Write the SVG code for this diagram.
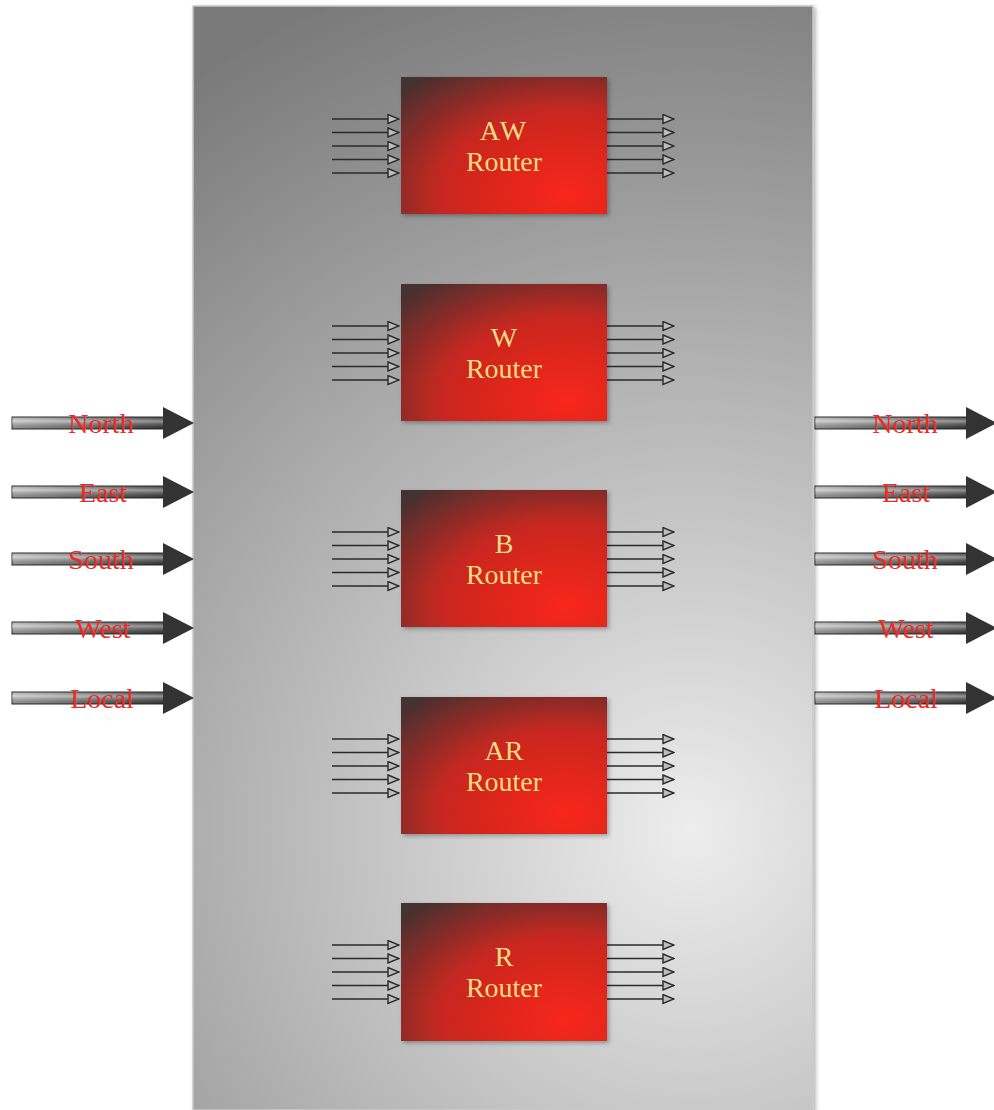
<svg xmlns="http://www.w3.org/2000/svg" width="994" height="1110" viewBox="0 0 994 1110">
<style>
.rt{font-family:"Liberation Serif","DejaVu Serif",serif;font-size:28px;fill:#f6dc84;text-anchor:middle}
.bl{font-family:"Liberation Serif","DejaVu Serif",serif;font-size:28px;fill:#ee2a24;text-anchor:middle}
.sl{stroke:#2a2a2a;stroke-width:1.7;fill:none}
</style>
<defs>
<radialGradient id="panel" cx="690" cy="830" r="900" gradientUnits="userSpaceOnUse">
<stop offset="0" stop-color="#ededed"/>
<stop offset="1" stop-color="#7a7a7a"/>
</radialGradient>
<radialGradient id="box" cx="0.8" cy="0.85" r="1.1" fx="0.8" fy="0.85">
<stop offset="0" stop-color="#f8281a"/>
<stop offset="0.55" stop-color="#c82820"/>
<stop offset="1" stop-color="#443030"/>
</radialGradient>
<linearGradient id="shaft" x1="0" y1="0" x2="1" y2="0">
<stop offset="0" stop-color="#b0b0b0"/>
<stop offset="1" stop-color="#3a3a3a"/>
</linearGradient>
<linearGradient id="shaftv" x1="0" y1="0" x2="0" y2="1">
<stop offset="0" stop-color="#ffffff" stop-opacity="0"/>
<stop offset="0.35" stop-color="#ffffff" stop-opacity="0.45"/>
<stop offset="1" stop-color="#000000" stop-opacity="0.2"/>
</linearGradient>
<marker id="oa" markerWidth="13" markerHeight="11" refX="12" refY="5.5" orient="auto" markerUnits="userSpaceOnUse">
<path d="M1,1 L12,5.5 L1,10 Z" fill="#bdbdbd" stroke="#2a2a2a" stroke-width="1.4"/>
</marker>
<filter id="sh" x="-5%" y="-5%" width="110%" height="110%">
<feDropShadow dx="2" dy="2" stdDeviation="2" flood-opacity="0.3"/>
</filter>
<g id="inarrows">
<line class="sl" x1="332" y1="0" x2="399" y2="0" marker-end="url(#oa)"/>
<line class="sl" x1="332" y1="13.5" x2="399" y2="13.5" marker-end="url(#oa)"/>
<line class="sl" x1="332" y1="27" x2="399" y2="27" marker-end="url(#oa)"/>
<line class="sl" x1="332" y1="40.5" x2="399" y2="40.5" marker-end="url(#oa)"/>
<line class="sl" x1="332" y1="54" x2="399" y2="54" marker-end="url(#oa)"/>
</g>
<g id="outarrows">
<line class="sl" x1="607" y1="0" x2="674" y2="0" marker-end="url(#oa)"/>
<line class="sl" x1="607" y1="13.5" x2="674" y2="13.5" marker-end="url(#oa)"/>
<line class="sl" x1="607" y1="27" x2="674" y2="27" marker-end="url(#oa)"/>
<line class="sl" x1="607" y1="40.5" x2="674" y2="40.5" marker-end="url(#oa)"/>
<line class="sl" x1="607" y1="54" x2="674" y2="54" marker-end="url(#oa)"/>
</g>
<g id="big">
<rect x="0" y="-6" width="152" height="12" fill="url(#shaft)" stroke="#2a2a2a" stroke-width="1"/>
<rect x="0" y="-6" width="152" height="12" fill="url(#shaftv)"/>
<path d="M151,-16 L182,0 L151,16 Z" fill="#333"/>
</g>
</defs>
<rect width="994" height="1110" fill="#ffffff"/>
<g id="panel-bg">
<rect x="193" y="6" width="620" height="1104" fill="url(#panel)" stroke="#c8c8c8" stroke-width="1.5" filter="url(#sh)"/>
</g>
<g id="connectors">
<use href="#big" x="12" y="423"/>
<use href="#big" x="12" y="492"/>
<use href="#big" x="12" y="559"/>
<use href="#big" x="12" y="628"/>
<use href="#big" x="12" y="698"/>
<use href="#big" x="815" y="423"/>
<use href="#big" x="815" y="492"/>
<use href="#big" x="815" y="559"/>
<use href="#big" x="815" y="628"/>
<use href="#big" x="815" y="698"/>
<use href="#inarrows" y="119"/>
<use href="#outarrows" y="119"/>
<use href="#inarrows" y="326"/>
<use href="#outarrows" y="326"/>
<use href="#inarrows" y="532"/>
<use href="#outarrows" y="532"/>
<use href="#inarrows" y="739"/>
<use href="#outarrows" y="739"/>
<use href="#inarrows" y="945"/>
<use href="#outarrows" y="945"/>
</g>
<g id="labels-left">
<text class="bl" x="101" y="433">North</text>
<text class="bl" x="103" y="502">East</text>
<text class="bl" x="101" y="569">South</text>
<text class="bl" x="103" y="638">West</text>
<text class="bl" x="102" y="708">Local</text>
</g>
<g id="labels-right">
<text class="bl" x="905" y="433">North</text>
<text class="bl" x="906" y="502">East</text>
<text class="bl" x="905" y="569">South</text>
<text class="bl" x="906" y="638">West</text>
<text class="bl" x="906" y="708">Local</text>
</g>
<g id="router-aw">
<rect x="401" y="77" width="206" height="137" fill="url(#box)" filter="url(#sh)"/>
<text class="rt" x="504" y="140" letter-spacing="2">AW</text>
<text class="rt" x="504" y="171">Router</text>
</g>
<g id="router-w">
<rect x="401" y="284" width="206" height="137" fill="url(#box)" filter="url(#sh)"/>
<text class="rt" x="504" y="347">W</text>
<text class="rt" x="504" y="378">Router</text>
</g>
<g id="router-b">
<rect x="401" y="490" width="206" height="137" fill="url(#box)" filter="url(#sh)"/>
<text class="rt" x="504" y="553">B</text>
<text class="rt" x="504" y="584">Router</text>
</g>
<g id="router-ar">
<rect x="401" y="697" width="206" height="137" fill="url(#box)" filter="url(#sh)"/>
<text class="rt" x="504" y="760">AR</text>
<text class="rt" x="504" y="791">Router</text>
</g>
<g id="router-r">
<rect x="401" y="903" width="206" height="138" fill="url(#box)" filter="url(#sh)"/>
<text class="rt" x="504" y="966">R</text>
<text class="rt" x="504" y="997">Router</text>
</g>
</svg>
